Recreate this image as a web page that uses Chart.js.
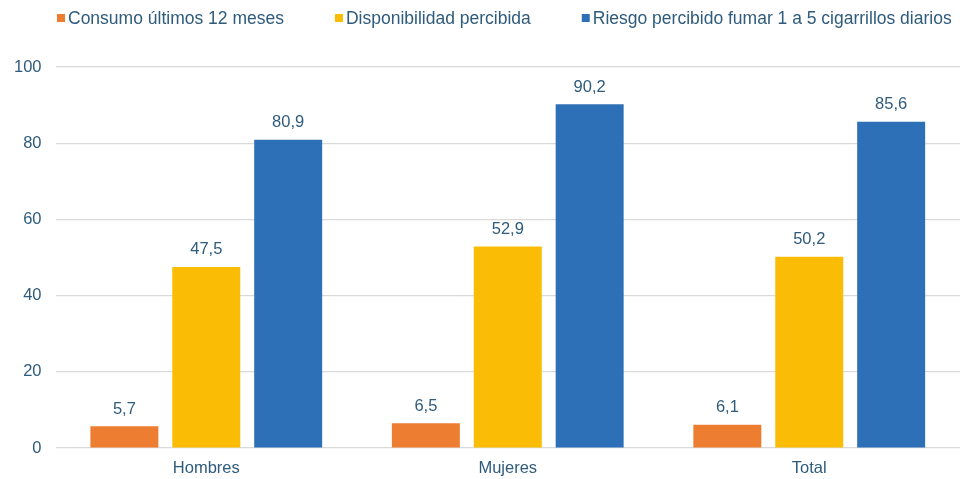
<!DOCTYPE html>
<html>
<head>
<meta charset="utf-8">
<script src="https://cdn.jsdelivr.net/npm/chart.js@4/dist/chart.umd.min.js"></script>
<style>
html,body{margin:0;padding:0;background:#fff;}
#wrap{width:962px;height:479px;position:relative;}
</style>
</head>
<body>
<div id="wrap"><canvas id="c" width="962" height="479"></canvas></div>
<script>
const categories = ["Hombres", "Mujeres", "Total"];
const seriesNames = ["Consumo últimos 12 meses", "Disponibilidad percibida", "Riesgo percibido fumar 1 a 5 cigarrillos diarios"];
const consumo = [5.7, 6.5, 6.1];
const disponibilidad = [47.5, 52.9, 50.2];
const riesgo = [80.9, 90.2, 85.6];
const yTicks = [0, 20, 40, 60, 80, 100];
const colors = ["#ED7D31", "#FBBC05", "#2E70B8"];
const textColor = "#2F5B7C";
const fontFamily = "'Liberation Sans', Arial, Helvetica, sans-serif";

const labelPlugin = {
  id: 'barLabels',
  afterDatasetsDraw(chart) {
    const ctx = chart.ctx;
    ctx.save();
    ctx.font = "16.5px " + fontFamily;
    ctx.fillStyle = textColor;
    ctx.textAlign = 'center';
    ctx.textBaseline = 'bottom';
    chart.data.datasets.forEach((ds, i) => {
      const meta = chart.getDatasetMeta(i);
      meta.data.forEach((bar, j) => {
        const v = ds.data[j];
        ctx.fillText(v.toFixed(1).replace('.', ','), bar.x, bar.y - 9);
      });
    });
    ctx.restore();
  }
};

const legendPlugin = {
  id: 'topLegend',
  afterDraw(chart) {
    const ctx = chart.ctx;
    ctx.save();
    ctx.font = "17.5px " + fontFamily;
    ctx.textBaseline = 'middle';
    ctx.textAlign = 'left';
    const box = 8, boxGap = 3, itemGap = 51, y = 18;
    let x = 57;
    chart.data.datasets.forEach(ds => {
      const w = ctx.measureText(ds.label).width;
      ctx.fillStyle = ds.backgroundColor;
      ctx.fillRect(x, y - box / 2, box, box);
      ctx.fillStyle = textColor;
      ctx.fillText(ds.label, x + box + boxGap, y + 1);
      x += box + boxGap + w + itemGap;
    });
    ctx.restore();
  }
};

new Chart(document.getElementById('c'), {
  type: 'bar',
  data: {
    labels: categories,
    datasets: [
      { label: seriesNames[0], data: consumo, backgroundColor: colors[0] },
      { label: seriesNames[1], data: disponibilidad, backgroundColor: colors[1] },
      { label: seriesNames[2], data: riesgo, backgroundColor: colors[2] }
    ]
  },
  options: {
    responsive: false,
    animation: false,
    layout: { padding: { left: 0, right: 2, top: 67, bottom: 0 } },
    datasets: { bar: { categoryPercentage: 0.815, barPercentage: 0.83 } },
    plugins: {
      tooltip: { enabled: false },
      legend: { display: false }
    },
    scales: {
      x: {
        grid: { display: false },
        border: { display: false },
        ticks: { color: textColor, font: { family: fontFamily, size: 16.5 }, padding: 3 },
        afterFit(scale) { scale.height = 31; }
      },
      y: {
        min: 0, max: 100,
        afterBuildTicks(axis) { axis.ticks = yTicks.map(v => ({ value: v })); },
        grid: { color: '#D9D9D9', lineWidth: 1.2, drawTicks: false },
        border: { display: false },
        ticks: { color: textColor, font: { family: fontFamily, size: 16.5 }, padding: 14 }
      }
    }
  },
  plugins: [labelPlugin, legendPlugin]
});
</script>
</body>
</html>
